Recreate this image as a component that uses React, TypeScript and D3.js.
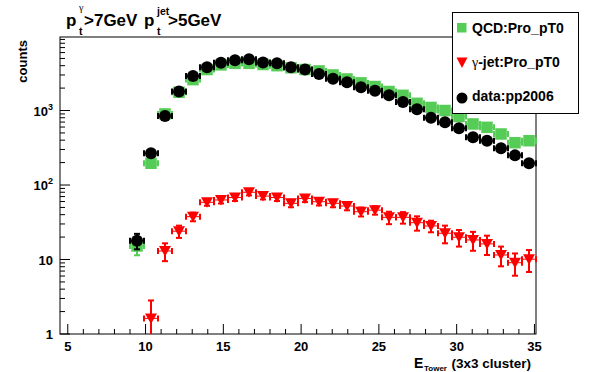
import * as d3 from "d3";

// bin centres of the E_Tower histogram (0.9 GeV bins)
const binCenters = [
  9.45, 10.35, 11.25, 12.15, 13.05, 13.95, 14.85, 15.75, 16.65, 17.55,
  18.45, 19.35, 20.25, 21.15, 22.05, 22.95, 23.85, 24.75, 25.65, 26.55,
  27.45, 28.35, 29.25, 30.15, 31.05, 31.95, 32.85, 33.75, 34.65,
];

// QCD:Pro_pT0 (green squares)
const qcd = [
  15.2, 196, 900, 1760, 2600, 3550, 4100, 4300, 4300, 4150,
  4000, 3750, 3550, 3400, 3000, 2650, 2350, 2100, 1800, 1600,
  1250, 1100, 1000, 830, 660, 595, 484, 370, 393,
];
const qcdErr = [
  3.8, 14, 30, 42, 51, 60, 64, 66, 66, 64,
  63, 61, 60, 58, 55, 51, 48, 46, 42, 40,
  35, 33, 32, 29, 26, 24, 22, 19, 20,
];

// gamma-jet:Pro_pT0 (red triangles), 0 = empty bin
const gjet = [
  0, 1.62, 13, 24, 37.6, 58.6, 63, 68, 80, 71,
  68, 56.8, 66, 59.7, 56.8, 52.3, 43.8, 46, 36.8, 36.8,
  31.2, 28.2, 22.5, 19.9, 18.3, 16.2, 11.5, 9.06, 10.1,
];
const gjetErr = [
  0, 1.2, 3.5, 4.5, 5, 6, 6.5, 7, 7.5, 7,
  7, 6.5, 7, 6.5, 6.5, 6.5, 6, 6, 7, 6.5,
  6.8, 5, 6, 5, 5.2, 4.7, 3.4, 3, 3.3,
];

// data:pp2006 (black circles)
const data = [
  17.9, 266, 844, 1800, 2900, 3800, 4385, 4720, 4880, 4420,
  4300, 3800, 3550, 3090, 2672, 2390, 2046, 1845, 1600, 1300,
  1038, 800, 695, 577, 437, 393, 311, 250, 196,
];
const dataErr = [
  4.2, 16, 29, 42, 54, 62, 66, 69, 70, 66,
  66, 62, 60, 56, 52, 49, 45, 43, 40, 36,
  32, 28, 26, 24, 21, 20, 18, 16, 14,
];

const xMajor = [5, 10, 15, 20, 25, 30, 35];
const yMajor = [1, 10, 100, 1000];

const FONT = "'Liberation Sans', Arial, Helvetica, sans-serif";
const GREEN = "#55cc55";
const RED = "#ff0000";
const HALF_BIN = 0.45;

const x = d3.scaleLinear().domain([4.5, 35.1]).range([60, 536]);
const y = d3.scaleLog().domain([1, Math.pow(10, 3.987)]).range([334, 37]);
const [yBottom, yTop] = y.range();

function ErrorBars({ values, errs, color }: { values: number[]; errs: number[]; color: string }) {
  return (
    <g stroke={color} fill="none">
      {values.map((v, i) => {
        if (v <= 0) return null;
        const c = binCenters[i];
        const cx = x(c), cy = y(v);
        const x0 = x(c - HALF_BIN), x1 = x(c + HALF_BIN);
        const hi = y(v + errs[i]);
        const lowV = v - errs[i];
        const lo = lowV >= 1 ? y(lowV) : yBottom;
        return (
          <g key={i}>
            <line x1={x0} x2={x1} y1={cy} y2={cy} strokeWidth={1} />
            <line x1={x0} x2={x0} y1={cy - 3} y2={cy + 3} strokeWidth={2} />
            <line x1={x1} x2={x1} y1={cy - 3} y2={cy + 3} strokeWidth={2} />
            <line x1={cx} x2={cx} y1={hi} y2={lo} strokeWidth={2} />
            <line x1={cx - 3} x2={cx + 3} y1={hi} y2={hi} strokeWidth={2} />
            {lowV >= 1 && <line x1={cx - 3} x2={cx + 3} y1={lo} y2={lo} strokeWidth={2} />}
          </g>
        );
      })}
    </g>
  );
}

const tri = (cx: number, cy: number, s = 6) =>
  `M${cx - s},${cy - 5} L${cx + s},${cy - 5} L${cx},${cy + 5.5} Z`;

export default function App() {
  const minorX = x.ticks(30).filter((t) => t % 5 !== 0);
  const minorY: number[] = [];
  yMajor.forEach((d) => {
    d3.range(2, 10).forEach((m) => {
      if (d * m <= y.domain()[1]) minorY.push(d * m);
    });
  });

  return (
    <div style={{ position: "absolute", left: 0, top: 0 }}>
      <svg width={596} height={372} style={{ display: "block", background: "#fff" }} fontFamily={FONT}>
        {/* frame */}
        <rect x={60} y={yTop} width={476} height={yBottom - yTop} fill="none" stroke="#000" strokeWidth={1} />

        {/* x axis ticks */}
        {xMajor.map((t) => (
          <g key={"xm" + t}>
            <line x1={x(t)} x2={x(t)} y1={yBottom} y2={yBottom - 10} stroke="#000" />
            <text x={x(t)} y={351} textAnchor="middle" fontSize={13} fontWeight="bold">{t}</text>
          </g>
        ))}
        {minorX.map((t) => (
          <line key={"xn" + t} x1={x(t)} x2={x(t)} y1={yBottom} y2={yBottom - 5} stroke="#000" />
        ))}

        {/* y axis ticks */}
        {yMajor.map((t) => {
          const p = Math.round(Math.log10(t));
          return (
            <g key={"ym" + t}>
              <line x1={60} x2={70} y1={y(t)} y2={y(t)} stroke="#000" />
              <text x={53} y={y(t) + 5} textAnchor="end" fontSize={13} fontWeight="bold">
                {p < 2 ? t : "10"}
                {p >= 2 && <tspan fontSize={9} dy={-6}>{p}</tspan>}
              </text>
            </g>
          );
        })}
        {minorY.map((t) => (
          <line key={"yn" + t} x1={60} x2={65} y1={y(t)} y2={y(t)} stroke="#000" />
        ))}

        {/* axis titles */}
        <text transform="translate(27,40) rotate(-90)" textAnchor="end" fontSize={13} fontWeight="bold">counts</text>
        <text x={414} y={368} fontSize={14} fontWeight="bold">E</text>
        <text x={424} y={371} fontSize={8} fontWeight="bold">Tower</text>
        <text x={531} y={368} textAnchor="end" fontSize={13.5} fontWeight="bold">(3x3 cluster)</text>

        {/* title */}
        <g fontWeight="bold">
          <text x={66} y={26} fontSize={17}>p</text>
          <text x={79} y={11} fontSize={10} fontWeight="normal" fontFamily="'Liberation Serif', serif">γ</text>
          <text x={79} y={35} fontSize={10.5}>t</text>
          <text x={84} y={26} fontSize={17}>&gt;7GeV</text>
          <text x={144} y={26} fontSize={17}>p</text>
          <text x={157} y={15} fontSize={10.5}>jet</text>
          <text x={157} y={35} fontSize={10.5}>t</text>
          <text x={168} y={26} fontSize={17}>&gt;5GeV</text>
        </g>

        {/* QCD */}
        <ErrorBars values={qcd} errs={qcdErr} color={GREEN} />
        {qcd.map((v, i) => (
          <rect key={"q" + i} x={x(binCenters[i]) - 5.75} y={y(v) - 5.75} width={11.5} height={11.5} fill={GREEN} />
        ))}

        {/* gamma-jet */}
        <ErrorBars values={gjet} errs={gjetErr} color={RED} />
        {gjet.map((v, i) => (v > 0 ? <path key={"g" + i} d={tri(x(binCenters[i]), y(v))} fill={RED} /> : null))}

        {/* data */}
        <ErrorBars values={data} errs={dataErr} color="#000" />
        {data.map((v, i) => (
          <circle key={"d" + i} cx={x(binCenters[i])} cy={y(v)} r={6} fill="#000" />
        ))}

        {/* legend */}
        <rect x={452.5} y={12.5} width={126} height={101} fill="#fff" stroke="#000" />
        <rect x={457} y={23} width={9.5} height={9.5} fill={GREEN} />
        <text x={472} y={33} fontSize={14} fontWeight="bold">QCD:Pro_pT0</text>
        <path d={tri(462, 62.5, 5.5)} fill={RED} />
        <text x={472} y={67} fontSize={14} fontWeight="bold">
          <tspan fontWeight="normal" fontFamily="'Liberation Serif', serif">γ</tspan>-jet:Pro_pT0
        </text>
        <circle cx={462} cy={98} r={5.5} fill="#000" />
        <text x={472} y={101} fontSize={14} fontWeight="bold">data:pp2006</text>
      </svg>
    </div>
  );
}
